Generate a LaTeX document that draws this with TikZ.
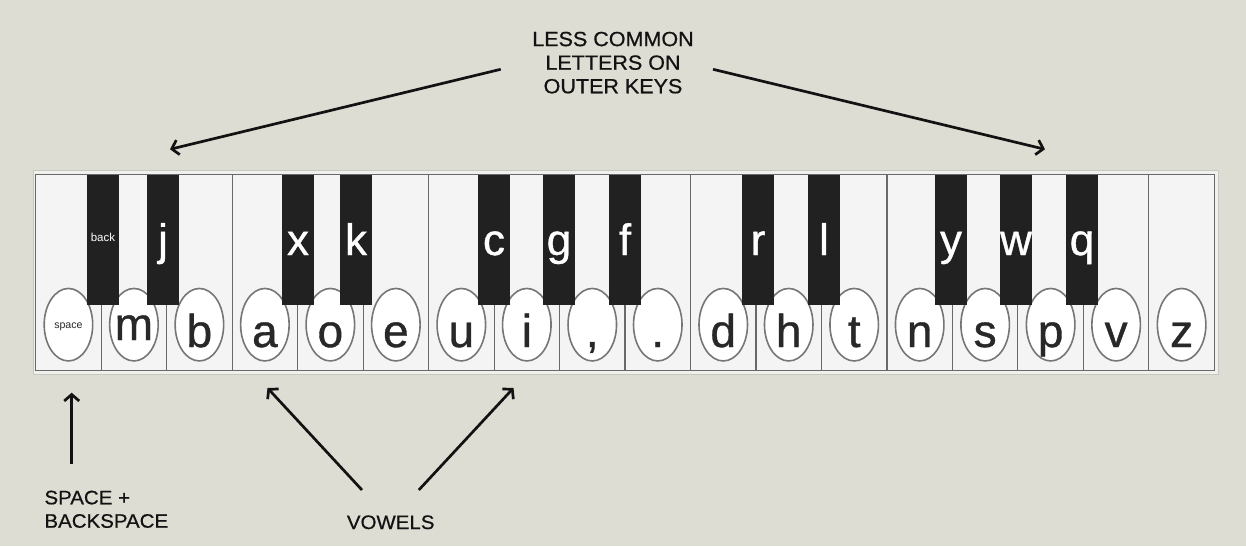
\documentclass[tikz,border=0pt]{standalone}
\usepackage{fontspec}
\setmainfont{Liberation Sans}
\newfontfamily\labelfont[FakeStretch=1.05,FakeBold=0.6]{Liberation Sans}
\newfontfamily\keyfont[FakeBold=0.8]{Liberation Sans}
\usetikzlibrary{arrows.meta,shapes.geometric}
\definecolor{bg}{RGB}{221,221,211}
\definecolor{framefill}{RGB}{240,240,236}
\definecolor{frameline}{RGB}{200,200,194}
\definecolor{wkey}{RGB}{244,244,244}
\definecolor{bkey}{RGB}{33,33,33}
\definecolor{keyline}{RGB}{105,105,105}
\definecolor{ovalline}{RGB}{118,118,118}
\definecolor{ink}{RGB}{40,40,40}
\definecolor{labelink}{RGB}{18,18,18}
\begin{document}
\begin{tikzpicture}[x=1pt,y=-1pt,
  kbdframe/.style={draw=frameline,line width=0.8pt,fill=framefill,minimum width=1185pt,minimum height=204pt,inner sep=0pt,outer sep=0pt},
  whitekey/.style={draw=keyline,line width=1.1pt,fill=wkey,minimum width=65.48pt,minimum height=196.2pt,inner sep=0pt,outer sep=0pt},
  blackkey/.style={fill=bkey,minimum width=32.5pt,minimum height=130.5pt,inner sep=0pt,outer sep=0pt},
  oval/.style={ellipse,draw=ovalline,line width=1.6pt,fill=white,minimum width=48.5pt,minimum height=72.5pt,inner sep=0pt},
  wletter/.style={anchor=base,inner sep=0pt,text=ink,font=\keyfont\fontsize{46}{46}\selectfont},
  bletter/.style={anchor=base,inner sep=0pt,text=white,font=\keyfont\fontsize{44}{44}\selectfont},
  smalltext/.style={anchor=base,inner sep=0pt},
  lbl/.style={inner sep=0pt,text=labelink},
  arr/.style={draw=labelink,line width=2.7pt,-{Straight Barb[length=6.5pt,width=15pt]}}
]
\useasboundingbox (0,0) rectangle (1246,546);
\fill[bg] (0,0) rectangle (1246,546);

% keyboard frame
\node[kbdframe] (kbd) at (625.7,272.2) {};

% white keys with ovals and letters
\foreach \i in {1,...,18}{
  \pgfmathsetmacro{\cx}{35.7+65.48*(\i-0.5)}
  \node[whitekey] (w\i) at (\cx,272.6) {};
  \node[oval] (o\i) at (\cx,324.7) {};
}
\foreach \i/\t in {3/b,4/a,5/o,6/e,7/u,8/i,9/{,},10/.,11/d,12/h,13/t,14/n,15/s,16/p,17/v,18/z}{
  \node[wletter] (l\i) at ([yshift=-22.3pt]o\i.center) {\t};
}
\node[wletter] (l2) at ([yshift=-15.3pt]o2.center) {m};
\node[smalltext,text=ink,font=\fontsize{10.6}{10.6}\selectfont] (l1) at ([yshift=-4.2pt]o1.center) {space};

% black keys
\foreach \n/\x in {1/102.9,2/163,3/298,4/356,5/494,6/559,7/625,8/758,9/824,10/951,11/1016,12/1082}{
  \node[blackkey] (b\n) at (\x,239.75) {};
}
\foreach \n/\t in {2/j,3/x,4/k,5/c,6/g,7/f,8/r,9/l,10/y,11/w,12/q}{
  \node[bletter] (bl\n) at ([yshift=-15.25pt]b\n.center) {\t};
}
\node[smalltext,text=white,font=\fontsize{11.5}{11.5}\selectfont] (bl1) at ([yshift=-1.3pt]b1.center) {back};

% labels (base anchor = baseline of the last line)
\node[lbl,align=center,anchor=base,font=\labelfont\fontsize{20.5}{23.6}\selectfont] (less) at (613,93.3) {LESS COMMON\\LETTERS ON\\OUTER KEYS};
\node[lbl,align=left,anchor=base west,font=\labelfont\fontsize{19.5}{23.4}\selectfont] (spc) at (44.3,527.7) {SPACE +\\BACKSPACE};
\node[lbl,anchor=base,font=\labelfont\fontsize{19.5}{19.5}\selectfont] (vow) at (390.7,529) {VOWELS};

% arrow end points
\coordinate (lessL) at (500.7,69.3);
\coordinate (lessLtip) at (170,149.3);
\coordinate (lessR) at (713,69.3);
\coordinate (lessRtip) at (1045,149.3);
\coordinate (spcS) at (71.7,464);
\coordinate (spcTip) at (71.7,392.7);
\coordinate (vowL) at (362,490);
\coordinate (vowLtip) at (267.5,388);
\coordinate (vowR) at (418.8,490);
\coordinate (vowRtip) at (513.5,388);

\draw[arr] (lessL) -- (lessLtip);
\draw[arr] (lessR) -- (lessRtip);
\draw[arr] (spcS) -- (spcTip);
\draw[arr] (vowL) -- (vowLtip);
\draw[arr] (vowR) -- (vowRtip);
\end{tikzpicture}
\end{document}
